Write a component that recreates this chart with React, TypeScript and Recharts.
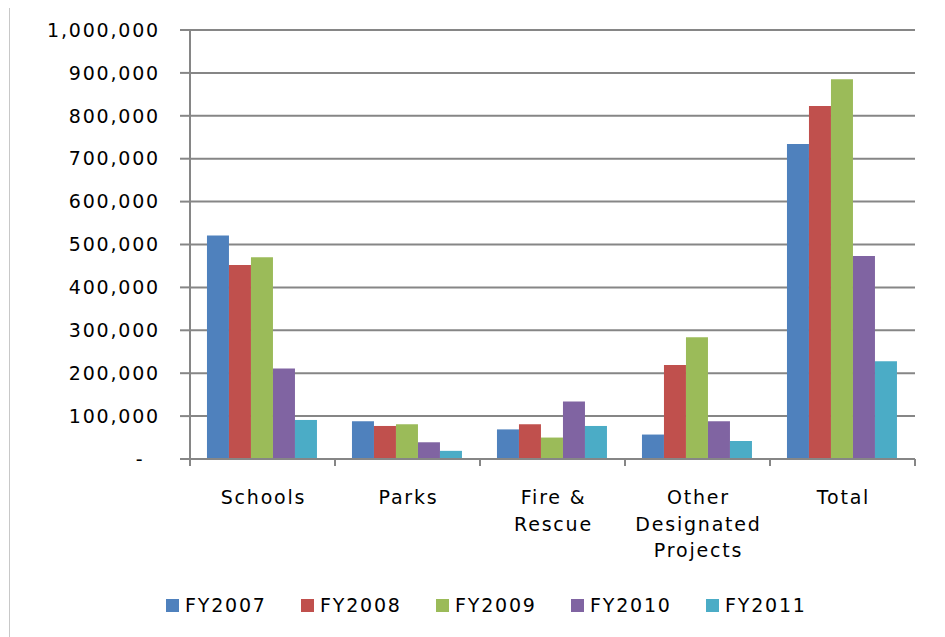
import React from "react";
import { BarChart, Bar, XAxis, YAxis, CartesianGrid, Legend } from "recharts";

const categories = ["Schools", "Parks", "Fire & Rescue", "Other Designated Projects", "Total"];
const categoryLines = [["Schools"], ["Parks"], ["Fire &", "Rescue"], ["Other", "Designated", "Projects"], ["Total"]];
const fy2007 = [521000, 88000, 69000, 57000, 734000];
const fy2008 = [452000, 77000, 81000, 219000, 823000];
const fy2009 = [470000, 81000, 50000, 284000, 885000];
const fy2010 = [211000, 39000, 134000, 88000, 473000];
const fy2011 = [91000, 19000, 77000, 42000, 228000];
const seriesNames = ["FY2007", "FY2008", "FY2009", "FY2010", "FY2011"];
const seriesColors = ["#4F81BD", "#C0504D", "#9BBB59", "#8064A2", "#4BACC6"];
const yTicks = [0, 100000, 200000, 300000, 400000, 500000, 600000, 700000, 800000, 900000, 1000000];

const seriesValues = [fy2007, fy2008, fy2009, fy2010, fy2011];
const data = categories.map((c, i) => {
  const row: any = { name: c, idx: i };
  seriesNames.forEach((s, j) => (row[s] = seriesValues[j][i]));
  return row;
});

const FONT = "'DejaVu Sans', sans-serif";
const AXIS = "#868686";
const FS = 19;
const LS = 1.8;

const fmt = (v: number) =>
  v === 0 ? "-\u00a0\u00a0" : v.toLocaleString("en-US");

const XTick = (props: any) => {
  const { x, y, payload, index } = props;
  const off = payload && payload.offset ? payload.offset : 72.7;
  const i = payload.index ?? index;
  const lines = categoryLines[i] || [String(payload.value)];
  return (
    <g>
      <line x1={x - off} y1={y} x2={x - off} y2={y + 7} stroke={AXIS} strokeWidth={2} />
      {i === categories.length - 1 && (
        <line x1={x + off} y1={y} x2={x + off} y2={y + 7} stroke={AXIS} strokeWidth={2} />
      )}
      <text
        x={x}
        y={y + 45}
        textAnchor="middle"
        fontFamily={FONT}
        fontSize={FS}
        letterSpacing={LS}
        fill="#000"
      >
        {lines.map((l: string, k: number) => (
          <tspan key={k} x={x + 1} dy={k === 0 ? 0 : 26.5}>
            {l}
          </tspan>
        ))}
      </text>
    </g>
  );
};

const LegendContent = (props: any) => {
  const { payload } = props;
  return (
    <div
      style={{
        display: "flex",
        alignItems: "center",
        height: 40,
        paddingLeft: 156,
        fontFamily: FONT,
        fontSize: FS,
        letterSpacing: LS,
        color: "#000",
      }}
    >
      {(payload || []).map((p: any, i: number) => (
        <div key={i} style={{ display: "flex", alignItems: "center", width: 135 }}>
          <span
            style={{ display: "inline-block", width: 13, height: 13, background: p.color, marginRight: 6 }}
          />
          <span>{p.value}</span>
        </div>
      ))}
    </div>
  );
};

export default function App() {
  return (
    <div
      style={{
        width: 936,
        height: 640,
        marginLeft: 1,
        marginTop: -2,
        border: "1px solid #c8c8c8",
        boxSizing: "border-box",
        overflow: "hidden",
        background: "#fff",
      }}
    >
      <BarChart
        width={934}
        height={630}
        data={data}
        margin={{ top: 23, right: 29, left: 0, bottom: 12 }}
        barCategoryGap="11.7%"
        barGap={0}
      >
        <CartesianGrid vertical={false} stroke={AXIS} strokeWidth={2} />
        <XAxis
          dataKey="name"
          height={126}
          interval={0}
          tickSize={0}
          tickMargin={0}
          tick={<XTick />}
          axisLine={{ stroke: AXIS, strokeWidth: 2 }}
          tickLine={false}
        />
        <YAxis
          width={180}
          domain={[0, 1000000]}
          ticks={yTicks}
          interval={0}
          tickFormatter={fmt}
          tickSize={10}
          tickMargin={20}
          axisLine={{ stroke: AXIS, strokeWidth: 2 }}
          tickLine={{ stroke: AXIS, strokeWidth: 2 }}
          tick={{ fontFamily: FONT, fontSize: FS, letterSpacing: LS, fill: "#000" }}
        />
        <Legend verticalAlign="bottom" height={40} content={<LegendContent />} wrapperStyle={{ left: 0, width: 934 }} />
        {seriesNames.map((s, i) => (
          <Bar key={s} dataKey={s} fill={seriesColors[i]} isAnimationActive={false} />
        ))}
      </BarChart>
    </div>
  );
}
